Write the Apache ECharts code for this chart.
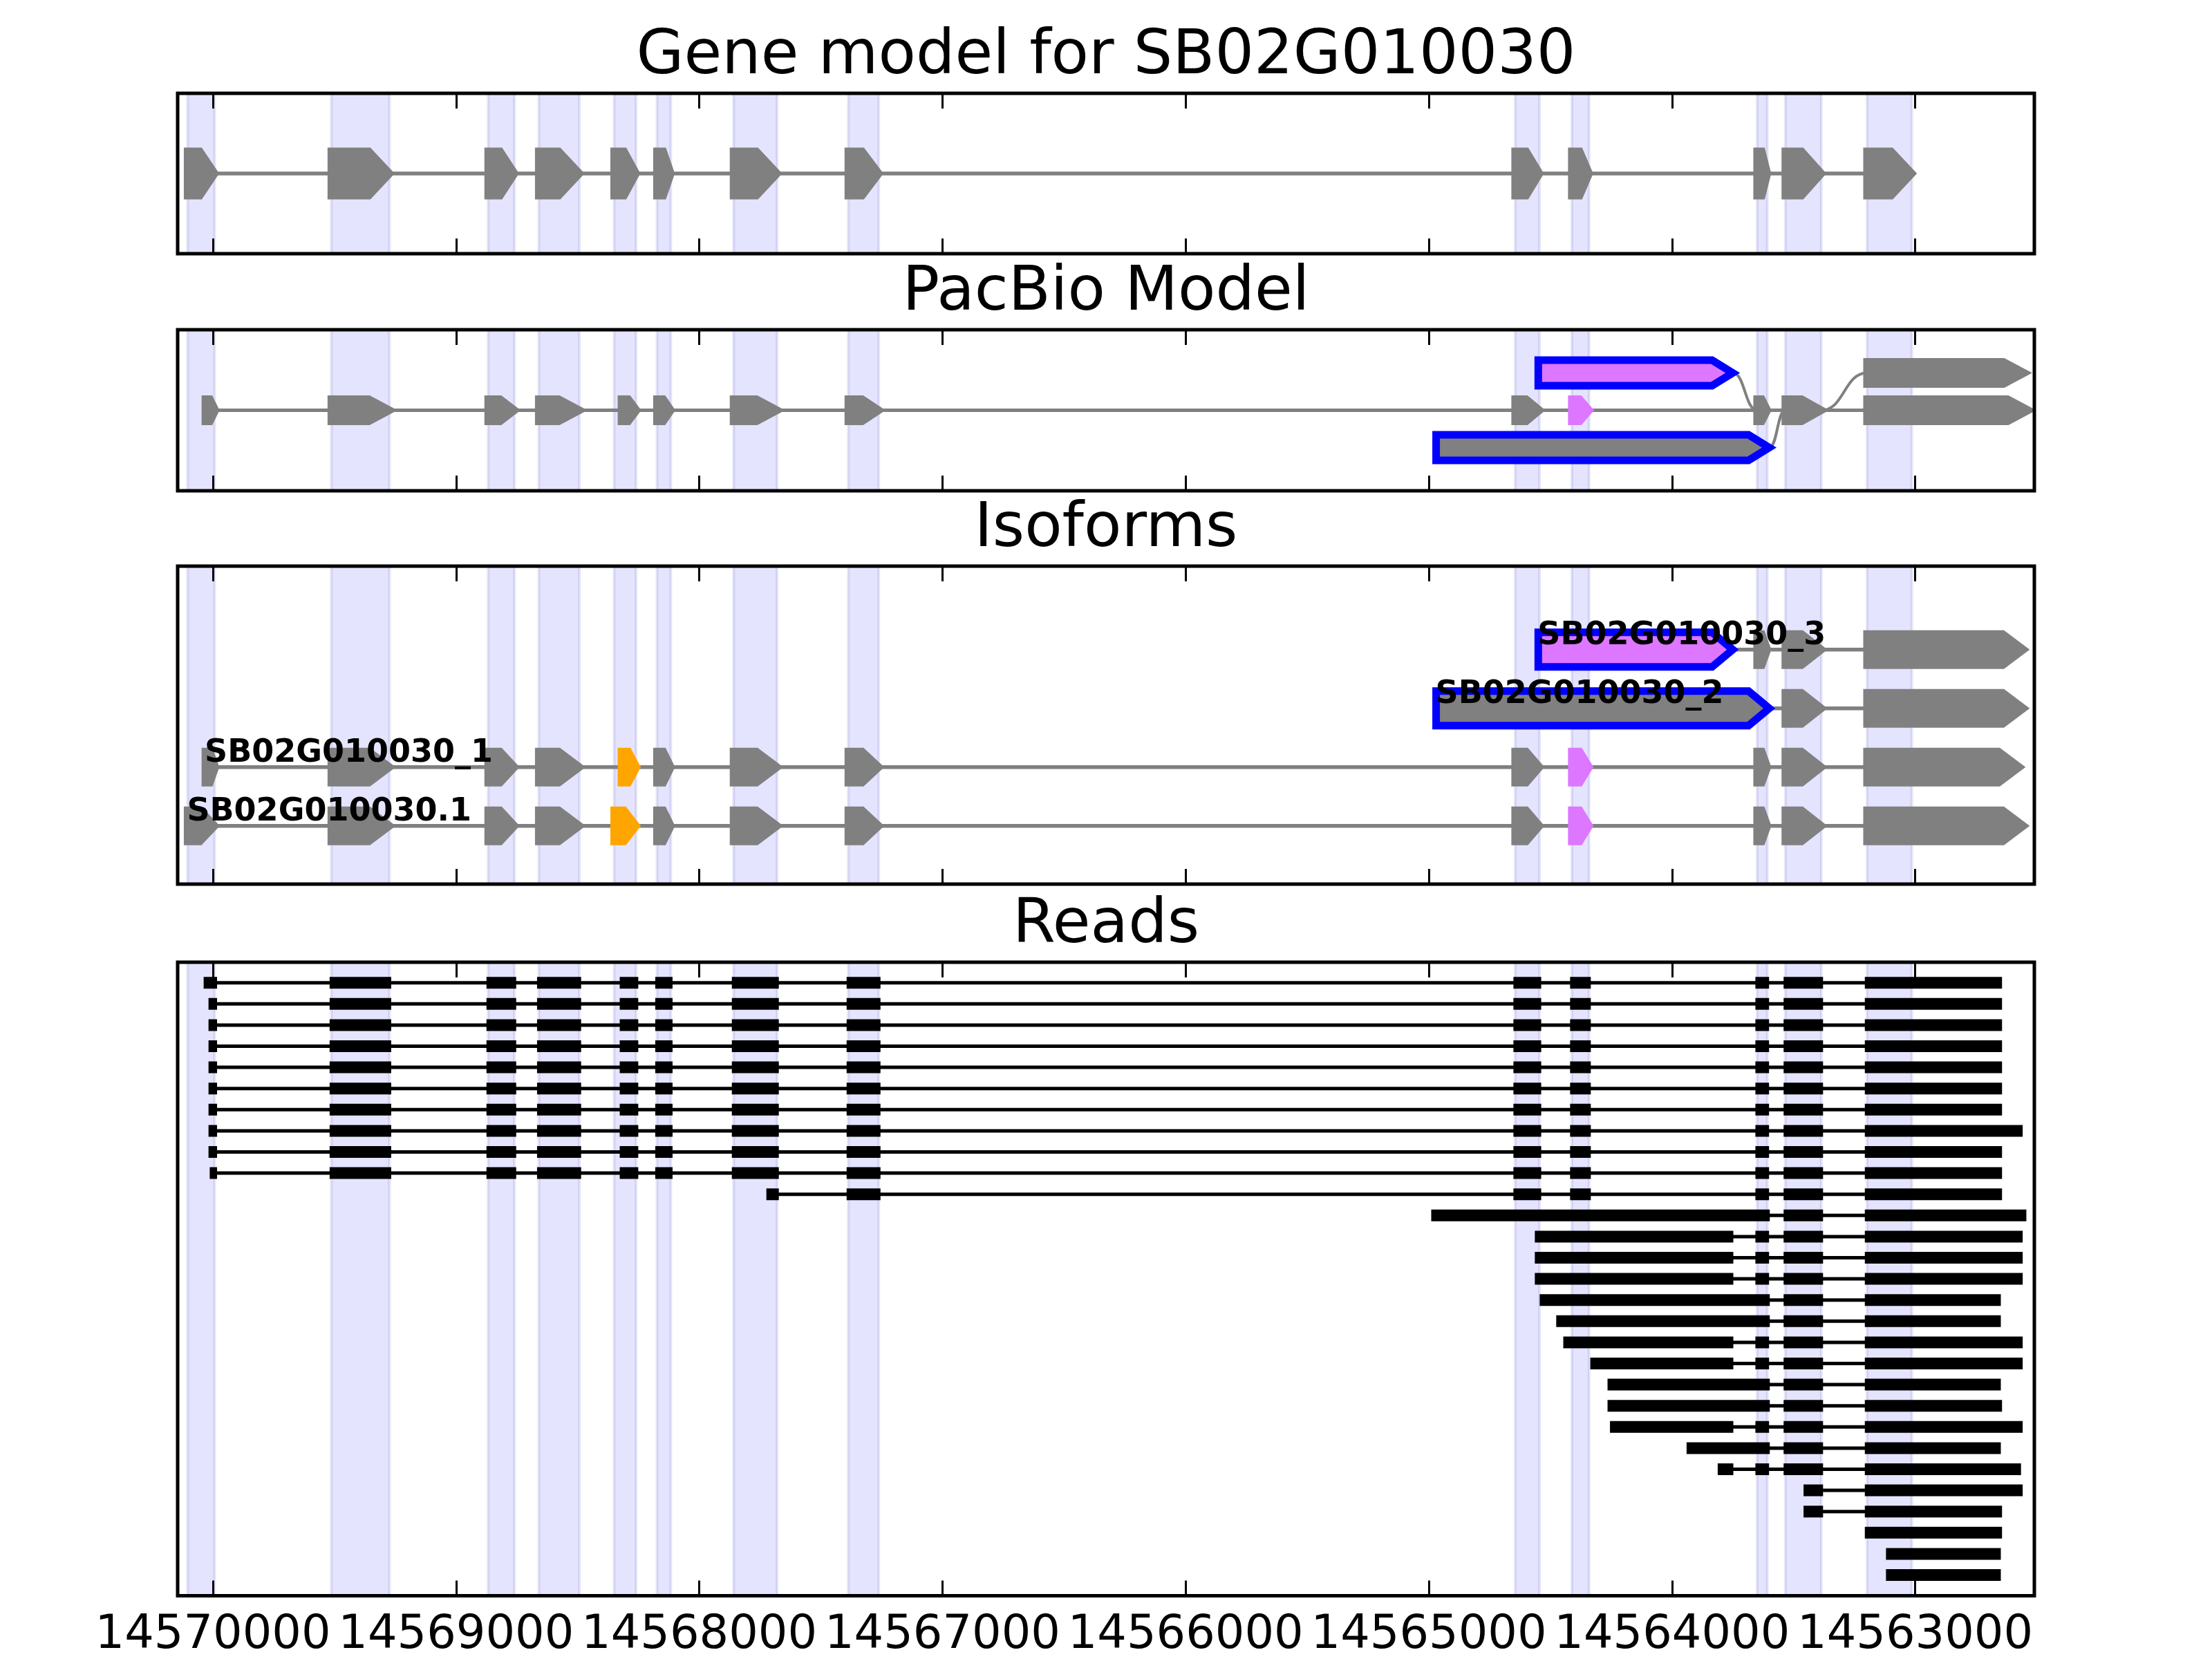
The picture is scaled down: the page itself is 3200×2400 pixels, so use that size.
<!DOCTYPE html>
<html>
<head>
<meta charset="utf-8">
<script src="https://cdn.jsdelivr.net/npm/echarts/dist/echarts.min.js"></script>
<style>
html,body{margin:0;padding:0;background:#ffffff;}
#c{width:3200px;height:2400px;}
</style>
</head>
<body>
<div id="c"></div>
<script>
// ---------------- data ----------------
const xTicks = [14570000, 14569000, 14568000, 14567000, 14566000, 14565000, 14564000, 14563000];
const xRange = [14562510, 14570145];

const panelTitles = ['Gene model for SB02G010030', 'PacBio Model', 'Isoforms', 'Reads'];

// gene model exons [start, end] (also used for the shaded bands)
const geneExons = [
  [14570104, 14569993], [14569513, 14569274], [14568868, 14568760], [14568660, 14568493],
  [14568350, 14568260], [14568174, 14568117], [14567859, 14567680], [14567387, 14567262],
  [14564645, 14564545], [14564412, 14564341], [14563650, 14563608], [14563534, 14563386],
  [14563198, 14563014]
];

// PacBio splice graph: rows 0 = main, 1 = upper, -1 = lower
const pacbioRows = [0, 1, -1];
const pacbioExons = [
  [[14570031, 14569990], [14569513, 14569274], [14568868, 14568760], [14568660, 14568493],
   [14568320, 14568258], [14568174, 14568117], [14567859, 14567680], [14567387, 14567262],
   [14564645, 14564545], [14564412, 14564341], [14563650, 14563608], [14563534, 14563386],
   [14563198, 14562535]],
  [[14564550, 14563750], [14563198, 14562552]],
  [[14564970, 14563600]]
];
const pacbioKinds = [
  ['c', 'c', 'c', 'c', 'c', 'c', 'c', 'c', 'c', 'p', 'c', 'c', 'c'],
  ['Bp', 'c'],
  ['Bc']
];
const pacbioSpans = [[14570031, 14562535, 0]];
// links [fromPos, fromRow, toPos, toRow]
const pacbioLinks = [
  [14563750, 1, 14563650, 0],
  [14563386, 0, 14563198, 1],
  [14563600, -1, 14563534, 0]
];

// Isoforms (row 0 = bottom)
const isoformNames = ['SB02G010030.1', 'SB02G010030_1', 'SB02G010030_2', 'SB02G010030_3'];
const isoformExons = [
  [[14570104, 14569993], [14569513, 14569274], [14568868, 14568760], [14568660, 14568493],
   [14568350, 14568260], [14568174, 14568117], [14567859, 14567680], [14567387, 14567262],
   [14564645, 14564545], [14564412, 14564341], [14563650, 14563608], [14563534, 14563386],
   [14563198, 14562555]],
  [[14570031, 14569990], [14569513, 14569274], [14568868, 14568760], [14568660, 14568493],
   [14568320, 14568258], [14568174, 14568117], [14567859, 14567680], [14567387, 14567262],
   [14564645, 14564545], [14564412, 14564341], [14563650, 14563608], [14563534, 14563386],
   [14563198, 14562572]],
  [[14564970, 14563600], [14563534, 14563386], [14563198, 14562555]],
  [[14564550, 14563750], [14563650, 14563608], [14563534, 14563386], [14563198, 14562555]]
];
const isoformKinds = [
  ['c', 'c', 'c', 'c', 'o', 'c', 'c', 'c', 'c', 'p', 'c', 'c', 'c'],
  ['c', 'c', 'c', 'c', 'o', 'c', 'c', 'c', 'c', 'p', 'c', 'c', 'c'],
  ['Bc', 'c', 'c'],
  ['Bp', 'c', 'c', 'c']
];

// Reads (top to bottom), each a list of aligned blocks [start, end]
const readBlocks = [
  [[14570031,14569990],[14569513,14569274],[14568868,14568760],[14568660,14568493],[14568320,14568258],[14568174,14568117],[14567859,14567680],[14567387,14567262],[14564645,14564545],[14564412,14564341],[14563650,14563608],[14563534,14563386],[14563200,14562650]],
  [[14570011,14569990],[14569513,14569274],[14568868,14568760],[14568660,14568493],[14568320,14568258],[14568174,14568117],[14567859,14567680],[14567387,14567262],[14564645,14564545],[14564412,14564341],[14563650,14563608],[14563534,14563386],[14563200,14562650]],
  [[14570011,14569990],[14569513,14569274],[14568868,14568760],[14568660,14568493],[14568320,14568258],[14568174,14568117],[14567859,14567680],[14567387,14567262],[14564645,14564545],[14564412,14564341],[14563650,14563608],[14563534,14563386],[14563200,14562650]],
  [[14570011,14569990],[14569513,14569274],[14568868,14568760],[14568660,14568493],[14568320,14568258],[14568174,14568117],[14567859,14567680],[14567387,14567262],[14564645,14564545],[14564412,14564341],[14563650,14563608],[14563534,14563386],[14563200,14562650]],
  [[14570011,14569990],[14569513,14569274],[14568868,14568760],[14568660,14568493],[14568320,14568258],[14568174,14568117],[14567859,14567680],[14567387,14567262],[14564645,14564545],[14564412,14564341],[14563650,14563608],[14563534,14563386],[14563200,14562650]],
  [[14570011,14569990],[14569513,14569274],[14568868,14568760],[14568660,14568493],[14568320,14568258],[14568174,14568117],[14567859,14567680],[14567387,14567262],[14564645,14564545],[14564412,14564341],[14563650,14563608],[14563534,14563386],[14563200,14562650]],
  [[14570011,14569990],[14569513,14569274],[14568868,14568760],[14568660,14568493],[14568320,14568258],[14568174,14568117],[14567859,14567680],[14567387,14567262],[14564645,14564545],[14564412,14564341],[14563650,14563608],[14563534,14563386],[14563200,14562650]],
  [[14570011,14569990],[14569513,14569274],[14568868,14568760],[14568660,14568493],[14568320,14568258],[14568174,14568117],[14567859,14567680],[14567387,14567262],[14564645,14564545],[14564412,14564341],[14563650,14563608],[14563534,14563386],[14563200,14562565]],
  [[14570011,14569990],[14569513,14569274],[14568868,14568760],[14568660,14568493],[14568320,14568258],[14568174,14568117],[14567859,14567680],[14567387,14567262],[14564645,14564545],[14564412,14564341],[14563650,14563608],[14563534,14563386],[14563200,14562650]],
  [[14570006,14569990],[14569513,14569274],[14568868,14568760],[14568660,14568493],[14568320,14568258],[14568174,14568117],[14567859,14567680],[14567387,14567262],[14564645,14564545],[14564412,14564341],[14563650,14563608],[14563534,14563386],[14563200,14562650]],
  [[14567717,14567680],[14567387,14567262],[14564645,14564545],[14564412,14564341],[14563650,14563608],[14563534,14563386],[14563200,14562650]],
  [[14564983,14563605],[14563534,14563386],[14563200,14562550]],
  [[14564557,14563755],[14563650,14563608],[14563534,14563386],[14563200,14562565]],
  [[14564557,14563755],[14563650,14563608],[14563534,14563386],[14563200,14562565]],
  [[14564557,14563755],[14563650,14563608],[14563534,14563386],[14563200,14562565]],
  [[14564537,14563605],[14563534,14563386],[14563200,14562655]],
  [[14564469,14563605],[14563534,14563386],[14563200,14562655]],
  [[14564440,14563755],[14563650,14563608],[14563534,14563386],[14563200,14562565]],
  [[14564329,14563755],[14563650,14563608],[14563534,14563386],[14563200,14562565]],
  [[14564258,14563605],[14563534,14563386],[14563200,14562655]],
  [[14564258,14563605],[14563534,14563386],[14563200,14562650]],
  [[14564248,14563755],[14563650,14563608],[14563534,14563386],[14563200,14562565]],
  [[14563933,14563605],[14563534,14563386],[14563200,14562655]],
  [[14563805,14563755],[14563650,14563608],[14563534,14563386],[14563200,14562572]],
  [[14563452,14563386],[14563200,14562565]],
  [[14563452,14563386],[14563200,14562650]],
  [[14563200,14562650]],
  [[14563113,14562655]],
  [[14563113,14562655]]
];

// ---------------- layout & styles ----------------
const FONT = '"DejaVu Sans", sans-serif';
const GRAY = '#808080', ORANGE = '#ffa500', PINK = '#dd77ff', BLUE = '#0000ff';
const kindFill = { c: GRAY, o: ORANGE, p: PINK, Bc: GRAY, Bp: PINK };

const layout = [
  { top: 135, height: 232, y: [-1, 1], inverse: false },
  { top: 477, height: 233, y: [-2.157, 2.157], inverse: false },
  { top: 819, height: 460, y: [-0.99, 4.42], inverse: false },
  { top: 1392, height: 921, y: [-0.97, 28.98], inverse: true }
];

const grids = layout.map(g => ({
  left: 257, right: 257, top: g.top, height: g.height,
  show: true, borderColor: '#000', borderWidth: 5, backgroundColor: 'transparent', z: 10
}));

const xAxes = [];
layout.forEach((g, i) => {
  ['bottom', 'top'].forEach(pos => {
    xAxes.push({
      type: 'value', gridIndex: i, position: pos,
      min: xRange[0], max: xRange[1], inverse: true,
      splitNumber: 8, minInterval: 1000, maxInterval: 1000, z: 11,
      axisLine: { show: false, onZero: false }, splitLine: { show: false },
      axisTick: { show: true, inside: true, length: 22, lineStyle: { color: '#000', width: 3 } },
      axisLabel: {
        show: i === 3 && pos === 'bottom', interval: 0, margin: 58, verticalAlign: 'middle',
        fontSize: 67, fontFamily: FONT, color: '#000',
        formatter: v => (xTicks.indexOf(Math.round(v)) >= 0 ? String(Math.round(v)) : '')
      }
    });
  });
});

const yAxes = layout.map((g, i) => ({
  type: 'value', gridIndex: i, min: g.y[0], max: g.y[1], inverse: g.inverse, show: false
}));

// ---------------- series builders ----------------
function bandSeries(g) {
  return {
    type: 'custom', xAxisIndex: 2 * g, yAxisIndex: g, z: 1, silent: true,
    data: geneExons.map(e => [e[0], e[1], 0]), encode: { x: [0, 1], y: 2 },
    renderItem: (params, api) => {
      const cs = params.coordSys;
      const a = api.coord([api.value(0), 0])[0];
      const b = api.coord([api.value(1), 0])[0];
      return {
        type: 'rect',
        shape: { x: Math.min(a, b), y: cs.y, width: Math.abs(b - a), height: cs.height },
        style: { fill: 'rgba(0,0,255,0.105)', stroke: 'rgba(70,70,170,0.13)', lineWidth: 4 }
      };
    }
  };
}

function lineSeries(g, spans, color, width) {
  return {
    type: 'custom', xAxisIndex: 2 * g, yAxisIndex: g, z: 2, silent: true,
    data: spans, encode: { x: [0, 1], y: 2 },
    renderItem: (params, api) => {
      const p1 = api.coord([api.value(0), api.value(2)]);
      const p2 = api.coord([api.value(1), api.value(2)]);
      return { type: 'line', shape: { x1: p1[0], y1: p1[1], x2: p2[0], y2: p2[1] },
        style: { stroke: color, lineWidth: width } };
    }
  };
}

function glyphSeries(g, items, kinds, polyH) {
  return {
    type: 'custom', xAxisIndex: 2 * g, yAxisIndex: g, z: 3, silent: true,
    data: items, encode: { x: [0, 1], y: 2 },
    renderItem: (params, api) => {
      const k = kinds[params.dataIndex];
      const p1 = api.coord([api.value(0), api.value(2)]);
      const p2 = api.coord([api.value(1), api.value(2)]);
      const x1 = Math.min(p1[0], p2[0]), x2 = Math.max(p1[0], p2[0]), yc = p1[1];
      const head = Math.min(0.55 * (x2 - x1), 30);
      const blue = k.charAt(0) === 'B';
      const hh = polyH / 2 + (blue ? 2.5 : 0);
      const fill = kindFill[k];
      return {
        type: 'polygon',
        shape: { points: [[x1, yc - hh], [x2 - head, yc - hh], [x2, yc], [x2 - head, yc + hh], [x1, yc + hh]] },
        style: { fill: fill, stroke: blue ? BLUE : fill, lineWidth: 11, lineJoin: 'miter' }
      };
    }
  };
}

function blockSeries(g, items, h) {
  return {
    type: 'custom', xAxisIndex: 2 * g, yAxisIndex: g, z: 3, silent: true,
    data: items, encode: { x: [0, 1], y: 2 },
    renderItem: (params, api) => {
      const p1 = api.coord([api.value(0), api.value(2)]);
      const p2 = api.coord([api.value(1), api.value(2)]);
      const x1 = Math.min(p1[0], p2[0]), x2 = Math.max(p1[0], p2[0]);
      return { type: 'rect', shape: { x: x1, y: p1[1] - h / 2, width: x2 - x1, height: h },
        style: { fill: '#000', stroke: '#000', lineWidth: 5 } };
    }
  };
}

// ---------------- assemble ----------------
const series = [];
for (let g = 0; g < 4; g++) series.push(bandSeries(g));

// Panel 1: gene model
series.push(lineSeries(0, [[geneExons[0][0], geneExons[geneExons.length - 1][1], 0]], GRAY, 5.5));
series.push(glyphSeries(0, geneExons.map(e => [e[0], e[1], 0]), geneExons.map(() => 'c'), 64));

// Panel 2: PacBio model
series.push(lineSeries(1, pacbioSpans, GRAY, 5));
series.push({
  type: 'custom', xAxisIndex: 2, yAxisIndex: 1, z: 2, silent: true,
  data: pacbioLinks.map(l => [l[0], l[2], l[1], l[3]]), encode: { x: [0, 1], y: 2 },
  renderItem: (params, api) => {
    const a = api.coord([api.value(0), api.value(2)]);
    const b = api.coord([api.value(1), api.value(3)]);
    const mx = (a[0] + b[0]) / 2;
    return { type: 'bezierCurve',
      shape: { x1: a[0], y1: a[1], cpx1: mx, cpy1: a[1], cpx2: mx, cpy2: b[1], x2: b[0], y2: b[1] },
      style: { stroke: GRAY, lineWidth: 4, fill: null } };
  }
});
{
  const items = [], kinds = [];
  pacbioExons.forEach((row, r) => row.forEach((e, j) => {
    items.push([e[0], e[1], pacbioRows[r]]); kinds.push(pacbioKinds[r][j]);
  }));
  series.push(glyphSeries(1, items, kinds, 32));
}

// Panel 3: isoforms
series.push(lineSeries(2, isoformExons.map((ex, i) => [ex[0][0], ex[ex.length - 1][1], i]), GRAY, 5.5));
{
  const items = [], kinds = [];
  isoformExons.forEach((row, r) => row.forEach((e, j) => {
    items.push([e[0], e[1], r]); kinds.push(isoformKinds[r][j]);
  }));
  series.push(glyphSeries(2, items, kinds, 45));
}
series.push({
  type: 'custom', xAxisIndex: 4, yAxisIndex: 2, z: 4, silent: true,
  data: isoformExons.map((ex, i) => [ex[0][0], ex[0][0], i]), encode: { x: [0, 1], y: 2 },
  renderItem: (params, api) => {
    const p = api.coord([api.value(0), api.value(2)]);
    return { type: 'text', x: p[0] - 1, y: p[1] - 20,
      style: { text: isoformNames[params.dataIndex], fill: '#000',
        font: 'bold 46px ' + FONT, align: 'left', verticalAlign: 'middle' } };
  }
});

// Panel 4: reads
series.push(lineSeries(3, readBlocks.map((b, k) => [b[0][0], b[b.length - 1][1], k]), '#000', 5));
{
  const items = [];
  readBlocks.forEach((b, k) => b.forEach(e => items.push([e[0], e[1], k])));
  series.push(blockSeries(3, items, 12));
}

const titles = panelTitles.map((t, i) => ({
  type: 'text', x: 1600, y: layout[i].top - 52, z: 20,
  style: { text: t, fill: '#000', font: '89px ' + FONT, align: 'center', verticalAlign: 'middle' }
}));

const chart = echarts.init(document.getElementById('c'), null, { renderer: 'canvas', width: 3200, height: 2400 });
chart.setOption({
  animation: false,
  backgroundColor: '#ffffff',
  grid: grids,
  xAxis: xAxes,
  yAxis: yAxes,
  graphic: titles,
  series: series
});
</script>
</body>
</html>
